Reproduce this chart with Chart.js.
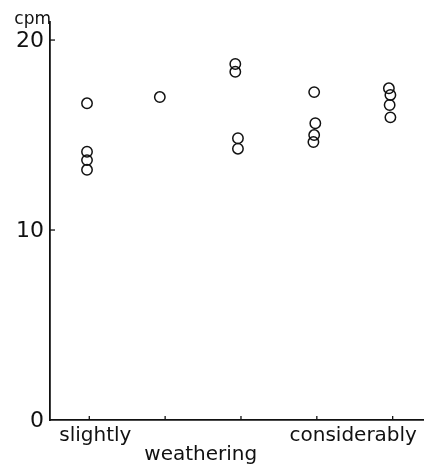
<!DOCTYPE html>
<html>
<head>
<meta charset="utf-8">
<script src="https://cdn.jsdelivr.net/npm/chart.js@4/dist/chart.umd.min.js"></script>
<style>
  html, body { margin: 0; padding: 0; background: #fff; }
  #wrap { width: 424px; height: 464px; position: relative; }
</style>
</head>
<body>
<div id="wrap"><canvas id="c" width="424" height="464"></canvas></div>
<script>
// Category tick positions (weathering grade 1..5)
const categoryTicks = [1, 2, 3, 4, 5];
const yTickValues = [0, 10, 20];
const yTickLabels = ["0", "10", "20"];
const yUnit = "cpm";
// Category labels and where they sit along the x scale
const xLabels = ["slightly", "weathering", "considerably"];
const xLabelPos = [1.08, 2.47, 4.48];
const xLabelRow = [0, 1, 0];

// Readings (x = grade with small plotting offset, y = cpm)
const xs = [0.97, 0.97, 0.97, 0.97,
            1.93,
            2.925, 2.925, 2.96, 2.96,
            3.965, 3.98, 3.965, 3.955,
            4.95, 4.97, 4.96, 4.97];
const cpm = [16.67, 14.12, 13.68, 13.17,
             17.0,
             18.74, 18.33, 14.83, 14.28,
             17.26, 15.62, 15.0, 14.63,
             17.46, 17.11, 16.58, 15.93];

const points = xs.map((x, i) => ({ x: x, y: cpm[i] }));

const decor = {
  id: 'decor',
  afterDraw(chart) {
    const ctx = chart.ctx;
    const xs_ = chart.scales.x, ys_ = chart.scales.y;
    const left = chart.chartArea.left, bottom = chart.chartArea.bottom;
    ctx.save();
    ctx.strokeStyle = '#111';
    ctx.lineWidth = 1.3;
    // inward y ticks
    yTickValues.forEach(v => {
      if (v === 0) return;
      const y = ys_.getPixelForValue(v);
      ctx.beginPath(); ctx.moveTo(left, y); ctx.lineTo(left + 5, y); ctx.stroke();
    });
    // inward x ticks
    categoryTicks.forEach(v => {
      const x = xs_.getPixelForValue(v);
      ctx.beginPath(); ctx.moveTo(x, bottom); ctx.lineTo(x, bottom - 4); ctx.stroke();
    });
    ctx.fillStyle = '#111';
    // y tick labels
    ctx.font = '22px "DejaVu Sans"';
    ctx.textAlign = 'right';
    ctx.textBaseline = 'middle';
    yTickValues.forEach((v, i) => {
      const y = ys_.getPixelForValue(v);
      ctx.fillText(yTickLabels[i], left - 6, y + 1);
    });
    // unit label
    ctx.font = '17px "DejaVu Sans"';
    ctx.textAlign = 'right';
    ctx.textBaseline = 'alphabetic';
    ctx.fillText(yUnit, left + 1, chart.chartArea.top + 2);
    // category labels
    ctx.font = '20px "DejaVu Sans"';
    ctx.textAlign = 'center';
    xLabels.forEach((t, i) => {
      const x = xs_.getPixelForValue(xLabelPos[i]);
      ctx.fillText(t, x, bottom + 21 + xLabelRow[i] * 19);
    });
    ctx.restore();
  }
};

new Chart(document.getElementById('c'), {
  type: 'scatter',
  data: {
    datasets: [{
      data: points,
      pointStyle: 'circle',
      pointRadius: 5.2,
      pointBorderWidth: 1.5,
      borderColor: '#111',
      backgroundColor: 'rgba(0,0,0,0)',
      clip: false
    }]
  },
  options: {
    responsive: false,
    animation: false,
    devicePixelRatio: 1,
    layout: { autoPadding: false, padding: { left: 50, top: 22, right: 0, bottom: 44 } },
    plugins: { legend: { display: false }, tooltip: { enabled: false } },
    scales: {
      x: {
        type: 'linear', min: 0.482, max: 5.413,
        grid: { display: false, drawTicks: false },
        ticks: { display: false },
        border: { display: true, color: '#111', width: 1.8 },
        afterFit(s) { s.height = 0; }
      },
      y: {
        type: 'linear', min: 0, max: 20.95,
        grid: { display: false, drawTicks: false },
        ticks: { display: false },
        border: { display: true, color: '#111', width: 1.8 },
        afterFit(s) { s.width = 0; }
      }
    }
  },
  plugins: [decor]
});
</script>
</body>
</html>
